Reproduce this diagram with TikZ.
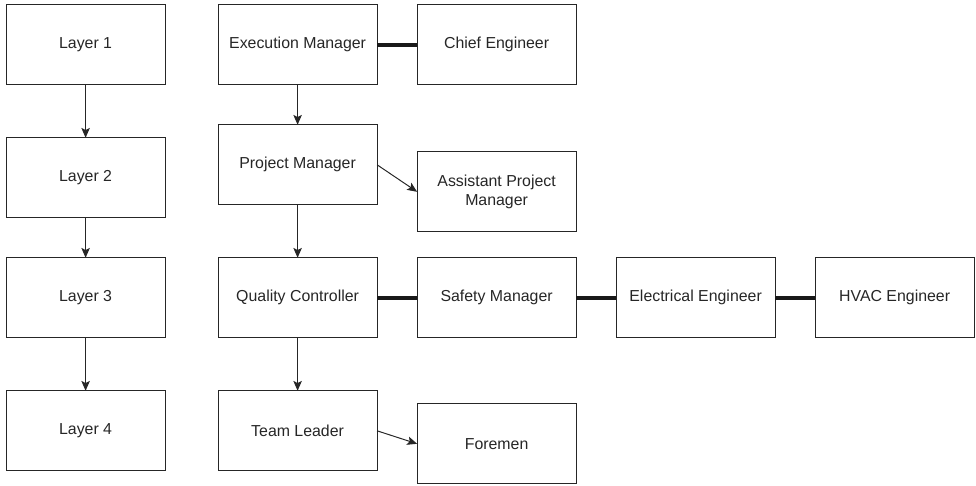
\documentclass[tikz,border=0pt]{standalone}
\usepackage{fontspec}
\setmainfont{Liberation Sans}
\usetikzlibrary{positioning, arrows.meta}

\begin{document}
\begin{tikzpicture}[
      role/.style = {rectangle, draw=black!85, line width=0.7pt,
                     minimum width=3.975cm, minimum height=2cm,
                     outer sep=0pt, align=center, text=black!85,
                     font=\fontsize{11.3pt}{13pt}\selectfont},
      arr/.style  = {-{Stealth[length=7pt, width=6pt, inset=1.5pt]},
                     line width=0.7pt, draw=black!85},
      tie/.style  = {line width=3.2pt, draw=black!90},
    ]
    \useasboundingbox (0,0) rectangle (24.4,-12.125);

    % Layer column
    \node[role] (lay1) at (2.14,-1.12) {Layer 1};
    \node[role, below=1.325cm of lay1] (lay2) {Layer 2};
    \node[role, below=1cm of lay2]     (lay3) {Layer 3};
    \node[role, below=1.325cm of lay3] (lay4) {Layer 4};

    % Chain of command
    \node[role, right=1.325cm of lay1] (exec) {Execution Manager};
    \node[role, below=1cm of exec]     (pm)   {Project Manager};
    \node[role, below=1.325cm of pm]   (qc)   {Quality Controller};
    \node[role, below=1.325cm of qc]   (tl)   {Team Leader};

    % Side roles
    \node[role, right=1cm of exec]              (chief) {Chief Engineer};
    \node[role, right=1cm of pm, yshift=-0.675cm] (apm) {Assistant Project\\Manager};
    \node[role, right=1cm of qc]                (safety) {Safety Manager};
    \node[role, right=1cm of safety]            (elec) {Electrical Engineer};
    \node[role, right=1cm of elec]              (hvac) {HVAC Engineer};
    \node[role, right=1cm of tl, yshift=-0.325cm] (foremen) {Foremen};

    % Downward arrows
    \draw[arr] (lay1) -- (lay2);
    \draw[arr] (lay2) -- (lay3);
    \draw[arr] (lay3) -- (lay4);
    \draw[arr] (exec) -- (pm);
    \draw[arr] (pm) -- (qc);
    \draw[arr] (qc) -- (tl);

    % Sideways arrows
    \draw[arr] (pm.east) -- (apm.west);
    \draw[arr] (tl.east) -- (foremen.west);

    % Peer links
    \draw[tie] (exec) -- (chief);
    \draw[tie] (qc) -- (safety);
    \draw[tie] (safety) -- (elec);
    \draw[tie] (elec) -- (hvac);
\end{tikzpicture}
\end{document}
